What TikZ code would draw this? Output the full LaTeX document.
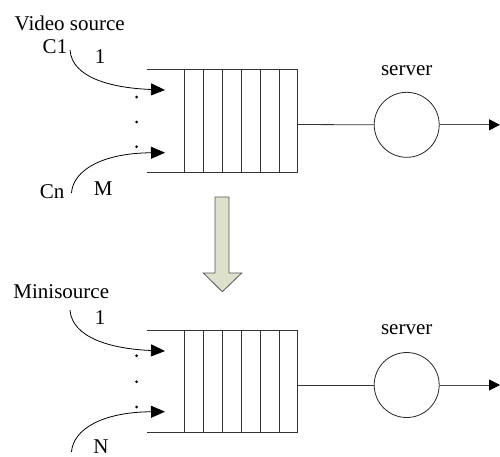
\documentclass[tikz,border=0pt]{standalone}
\usepackage{fontspec}
\setmainfont{Liberation Serif}
\usetikzlibrary{arrows.meta}
\definecolor{bigarrowfill}{HTML}{DDE1CC}
\definecolor{bigarrowline}{HTML}{555555}
\begin{document}
\begin{tikzpicture}[x=1pt,y=-1pt,
  every node/.style={font=\fontsize{21}{25}\selectfont, inner sep=0pt},
  lbl/.style={anchor=base},
  thin line/.style={line width=0.8pt, draw=black!80},
  srv/.style={circle, draw=black!85, line width=0.8pt, minimum size=65pt},
  feed/.style={line width=0.8pt, -{Triangle[length=14pt,width=12pt]}},
  outarrow/.style={line width=0.9pt, draw=black!70, -{Triangle[length=11pt,width=11pt,fill=black,color=black]}},
  dotmark/.style={circle, fill=black, minimum size=3pt}
]
\useasboundingbox (0,0) rectangle (500,456);

% ---------- top queue ----------
\draw[thin line] (147,69) -- (297,69) -- (297,172) -- (147,172);
\foreach \x in {184,203,222,241,260,279}
  \draw[thin line] (\x,69) -- (\x,172);
\coordinate (q1) at (297,124.5);
\node[srv] (s1) at (406.7,124.8) {};
\coordinate (o1) at (500,124.8);
\draw[thin line] (q1) -- (s1.west);
\draw[outarrow] (s1.east) -- (o1);
\node[lbl] (t1) at (406.7,75) {server};

\node[lbl] (vs) at (69.7,30) {Video source};
\node[lbl] (c1) at (55,53.3) {C1};
\node[lbl] (n1) at (100,63.3) {1};
\node[lbl] (cn) at (52.2,198.3) {Cn};
\node[lbl] (m1) at (103.3,195.7) {M};

\coordinate (a1s) at (70,50);
\coordinate (a1e) at (165,90);
\coordinate (a2s) at (71.5,193);
\coordinate (a2e) at (165,152.7);
\draw[feed] (a1s) .. controls (72,78) and (112,88) .. (a1e);
\draw[feed] (a2s) .. controls (73,170) and (103,153) .. (a2e);
\node[dotmark] (d1) at (136.7,97) {};
\node[dotmark] (d2) at (136.7,122) {};
\node[dotmark] (d3) at (136.7,146.7) {};

% ---------- big arrow ----------
\draw[draw=bigarrowline, fill=bigarrowfill, line width=0.8pt]
  (215,197) -- (229,197) -- (229,273) -- (241.7,273) -- (222.3,291.7)
  -- (203.3,273) -- (215,273) -- cycle;

% ---------- bottom queue ----------
\draw[thin line] (147,330) -- (297,330) -- (297,432.3) -- (147,432.3);
\foreach \x in {184,203,222,241,260,279}
  \draw[thin line] (\x,330) -- (\x,432.3);
\coordinate (q2) at (297,385);
\node[srv] (s2) at (406.7,385) {};
\coordinate (o2) at (500,385);
\draw[thin line] (q2) -- (s2.west);
\draw[outarrow] (s2.east) -- (o2);
\node[lbl] (t2) at (406.7,334) {server};

\node[lbl] (ms) at (61.3,298.3) {Minisource};
\node[lbl] (n2) at (100,324) {1};
\node[lbl] (nn) at (101,453) {N};

\coordinate (b1s) at (70,310);
\coordinate (b1e) at (165,351);
\coordinate (b2s) at (71.5,452);
\coordinate (b2e) at (165,411.7);
\draw[feed] (b1s) .. controls (72,338) and (112,349) .. (b1e);
\draw[feed] (b2s) .. controls (73,429) and (103,412) .. (b2e);
\node[dotmark] (e1) at (136.7,355.7) {};
\node[dotmark] (e2) at (136.7,381.7) {};
\node[dotmark] (e3) at (136.7,407) {};
\end{tikzpicture}
\end{document}
